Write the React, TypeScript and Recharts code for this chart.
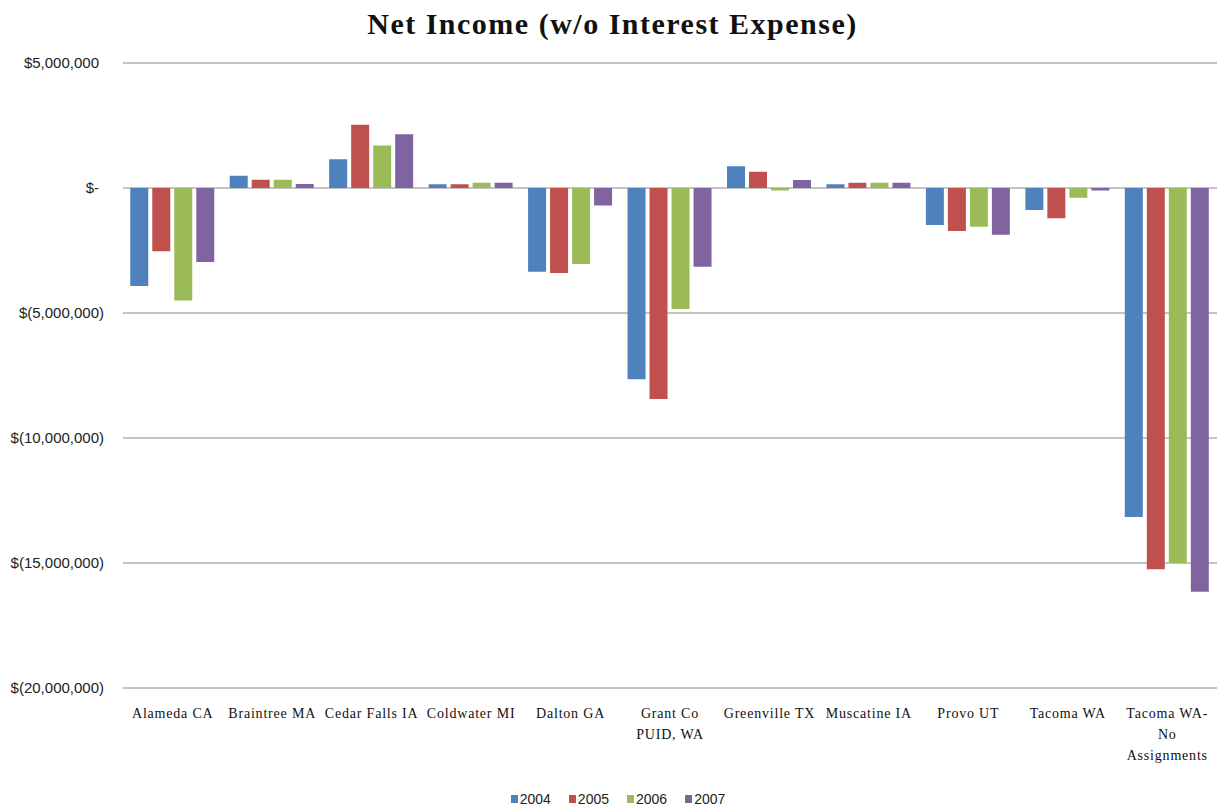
import React from 'react'
import { BarChart, Bar, XAxis, YAxis, CartesianGrid, Legend } from 'recharts'

const categories = [
  'Alameda CA',
  'Braintree MA',
  'Cedar Falls IA',
  'Coldwater MI',
  'Dalton GA',
  'Grant Co PUID, WA',
  'Greenville TX',
  'Muscatine IA',
  'Provo UT',
  'Tacoma WA',
  'Tacoma WA- No Assignments'
]

// how each category label breaks into lines under the axis
const tickLines = [
  ['Alameda CA'],
  ['Braintree MA'],
  ['Cedar Falls IA'],
  ['Coldwater MI'],
  ['Dalton GA'],
  ['Grant Co', 'PUID, WA'],
  ['Greenville  TX'],
  ['Muscatine IA'],
  ['Provo UT'],
  ['Tacoma WA'],
  ['Tacoma WA-', 'No', 'Assignments']
]

const years = ['2004', '2005', '2006', '2007']
const colors = ['#4F81BD', '#C0504D', '#9BBB59', '#8064A2']

const v2004 = [-3920000, 490000, 1150000, 150000, -3350000, -7650000, 870000, 150000, -1480000, -880000, -13160000]
const v2005 = [-2530000, 330000, 2530000, 150000, -3400000, -8440000, 650000, 210000, -1720000, -1210000, -15250000]
const v2006 = [-4500000, 330000, 1700000, 210000, -3040000, -4840000, -100000, 210000, -1550000, -390000, -15000000]
const v2007 = [-2960000, 160000, 2150000, 210000, -700000, -3150000, 320000, 210000, -1870000, -100000, -16150000]

const yTicks = [5000000, 0, -5000000, -10000000, -15000000, -20000000]

const series = [v2004, v2005, v2006, v2007]

const data = categories.map((name, i) => {
  const row: any = { name, idx: i }
  years.forEach((y, s) => {
    row[y] = series[s][i]
  })
  return row
})

const formatMoney = (v: number) => {
  if (v === 0) return '$-'
  const s = Math.abs(v).toLocaleString('en-US')
  return v < 0 ? `$(${s})` : `$${s}`
}

const YTick = (props: any) => {
  const { x, y, payload } = props
  const v = payload.value
  return (
    <text
      x={v < 0 ? x : x - 5}
      y={y}
      dy="0.35em"
      textAnchor="end"
      fontFamily="'Liberation Sans', Arial, sans-serif"
      fontSize={15}
      fill="#222"
    >
      {formatMoney(v)}
    </text>
  )
}

const XTick = (props: any) => {
  const { x, y, payload } = props
  const i = categories.indexOf(payload.value)
  const lines = tickLines[i] || [payload.value]
  return (
    <text
      x={x}
      y={y}
      textAnchor="middle"
      fontFamily="'Liberation Serif', 'Times New Roman', serif"
      fontSize={14}
      letterSpacing={0.8}
      fill="#111"
    >
      {lines.map((l, k) => (
        <tspan key={k} x={x} dy={k === 0 ? 30 : 21}>
          {l}
        </tspan>
      ))}
    </text>
  )
}

const LegendContent = () => (
  <div
    style={{
      display: 'flex',
      justifyContent: 'center',
      alignItems: 'center',
      height: 21,
      paddingLeft: 19,
      fontFamily: "'Liberation Sans', Arial, sans-serif",
      fontSize: 14,
      color: '#222'
    }}
  >
    {years.map((y, i) => (
      <div key={y} style={{ display: 'flex', alignItems: 'center', marginRight: i < years.length - 1 ? 18 : 0 }}>
        <span style={{ width: 7, height: 8, background: colors[i], marginRight: 2, display: 'inline-block' }} />
        <span>{y}</span>
      </div>
    ))}
  </div>
)

export default function App() {
  return (
    <div style={{ position: 'absolute', left: 0, top: 0, width: 1225, height: 809, background: '#fff' }}>
      <div
        style={{
          position: 'absolute',
          top: 8,
          left: 0,
          width: 1225,
          textAlign: 'center',
          fontFamily: "'Liberation Serif', 'Times New Roman', serif",
          fontWeight: 'bold',
          fontSize: 30,
          letterSpacing: 1.5,
          lineHeight: '32px',
          color: '#111'
        }}
      >
        Net Income (w/o Interest Expense)
      </div>
      <BarChart
        width={1225}
        height={809}
        data={data}
        margin={{ top: 63, right: 8, bottom: 0, left: 0 }}
        barCategoryGap="7.3%"
        barGap={4}
      >
        <CartesianGrid vertical={false} stroke="#8a8a8a" />
        <XAxis
          dataKey="name"
          interval={0}
          tickLine={false}
          axisLine={false}
          tickSize={0}
          tickMargin={0}
          height={100}
          tick={<XTick />}
        />
        <YAxis
          width={123}
          domain={[-20000000, 5000000]}
          ticks={yTicks}
          tickLine={false}
          axisLine={false}
          tickSize={0}
          tickMargin={19}
          tick={<YTick />}
        />
        <Legend verticalAlign="bottom" content={<LegendContent />} />
        {years.map((y, i) => (
          <Bar key={y} dataKey={y} fill={colors[i]} isAnimationActive={false} />
        ))}
      </BarChart>
    </div>
  )
}
